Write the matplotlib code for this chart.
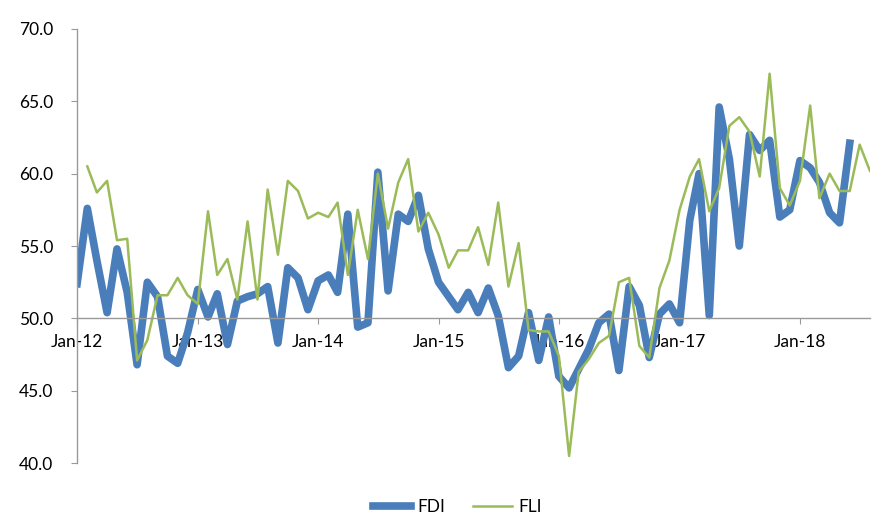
import matplotlib
matplotlib.use('Agg')
import matplotlib.dates as mdates
import pandas as pd
from matplotlib import pyplot as plt

# 月度数据
fdi_dates = pd.date_range('2012-01-01', periods=78, freq='MS')
fdi = [52.4, 57.6, 54.0, 50.4, 54.8, 51.8, 46.8, 52.5, 51.5, 47.4, 46.9, 49.0,
       52.0, 50.1, 51.7, 48.2, 51.2, 51.5, 51.7, 52.2, 48.3, 53.5, 52.8, 50.6,
       52.6, 53.0, 51.8, 57.2, 49.4, 49.7, 60.1, 51.9, 57.2, 56.7, 58.5, 54.8,
       52.5, 51.5, 50.6, 51.8, 50.4, 52.1, 50.2, 46.6, 47.4, 50.4, 47.1, 50.1,
       46.0, 45.2, 46.5, 47.9, 49.7, 50.3, 46.4, 52.2, 50.9, 47.3, 50.3, 51.0,
       49.7, 56.8, 60.0, 50.2, 64.6, 61.0, 55.0, 62.7, 61.6, 62.3, 57.0, 57.5,
       60.9, 60.4, 59.4, 57.3, 56.6, 62.1]

fli_dates = pd.date_range('2012-02-01', periods=79, freq='MS')
fli = [60.5, 58.7, 59.5, 55.4, 55.5, 47.1, 48.5, 51.6, 51.6, 52.8, 51.6, 51.0,
       57.4, 53.0, 54.1, 51.3, 56.7, 51.3, 58.9, 54.4, 59.5, 58.8, 56.9, 57.3,
       57.0, 58.0, 53.0, 57.5, 54.1, 60.0, 56.2, 59.4, 61.0, 56.0, 57.3, 55.8,
       53.5, 54.7, 54.7, 56.3, 53.7, 58.0, 52.2, 55.2, 49.2, 49.1, 49.1, 47.4,
       40.5, 46.3, 47.2, 48.3, 48.8, 52.5, 52.8, 48.1, 47.3, 52.1, 54.0, 57.5,
       59.8, 61.0, 57.4, 59.0, 63.3, 63.9, 62.9, 59.8, 66.9, 59.0, 57.8, 59.5,
       64.7, 58.3, 60.0, 58.8, 58.8, 62.0, 60.2]

y_ticks = [40, 45, 50, 55, 60, 65, 70]

plt.rcParams['font.family'] = ['Lato', 'DejaVu Sans']

fig = plt.figure(figsize=(8.76, 5.24), dpi=100)
ax = fig.add_axes([0.088, 0.116, 0.905, 0.829])

ax.plot(fdi_dates, fdi, color='#4a7ebb', linewidth=5.5, label='FDI',
        solid_joinstyle='round')
ax.plot(fli_dates, fli, color='#9bbb59', linewidth=1.8, label='FLI')

ax.set_ylim(40, 70)
ax.set_yticks(y_ticks)
ax.set_yticklabels([f'{v:.1f}' for v in y_ticks])
ax.set_xlim(pd.Timestamp('2012-01-01'), pd.Timestamp('2018-08-01'))
ax.xaxis.set_major_locator(mdates.YearLocator())
ax.xaxis.set_major_formatter(mdates.DateFormatter('Jan-%y'))

# x轴放在50的位置
ax.spines['bottom'].set_position(('data', 50))
for s in ['top', 'right']:
    ax.spines[s].set_visible(False)
for s in ['left', 'bottom']:
    ax.spines[s].set_color('#9a9a9a')
    ax.spines[s].set_linewidth(1.0)
ax.tick_params(axis='y', direction='out', length=4, color='#9a9a9a',
               labelsize=12.5, pad=13)
ax.tick_params(axis='x', direction='out', length=4, color='#9a9a9a',
               labelsize=12.5, pad=7)

fig.legend(loc='center', bbox_to_anchor=(0.522, 0.032), ncol=2,
           frameon=False, fontsize=12.5, handlelength=2.2,
           columnspacing=1.6, handletextpad=0.4)

fig.savefig('out.png', dpi=100, facecolor='white')
